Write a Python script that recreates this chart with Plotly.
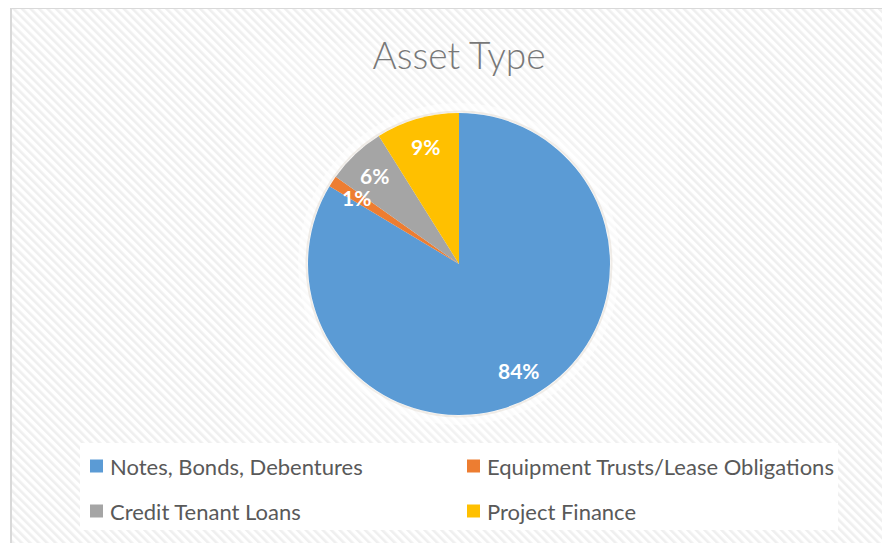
import base64
import numpy as np
import plotly.graph_objects as go

# ---- data ----
categories = ["Notes, Bonds, Debentures", "Equipment Trusts/Lease Obligations",
              "Credit Tenant Loans", "Project Finance"]
values = [83.6, 1.2, 6.3, 8.9]
colors = ["#5B9BD5", "#ED7D31", "#A5A5A5", "#FFC000"]
title_text = "Asset Type"

# ---- layout constants (screen pixels; page body adds an 8px offset) ----
W, H = 890, 543
OX, OY = 8, 8
CX, CY, R = 459, 264, 151

def px(x):
    return (x - OX) / W

def py(y):
    return 1 - (y - OY) / H

fig = go.Figure()
fig.add_trace(go.Pie(
    labels=categories, values=values, sort=False, direction="clockwise", rotation=0,
    marker=dict(colors=colors, line=dict(width=0)),
    textinfo="none", hoverinfo="label+percent", showlegend=False,
    domain=dict(x=[px(CX - R), px(CX + R)], y=[py(CY + R), py(CY - R)]),
))

# data labels placed along each slice's mid-angle
vals = np.array(values, dtype=float)
fr = vals / vals.sum()
mids = (np.cumsum(fr) - fr / 2) * 2 * np.pi
annotations = []
for f, a in zip(fr, mids):
    rr = 0.81 * R
    annotations.append(dict(
        x=px(CX + rr * np.sin(a)), y=py(CY - rr * np.cos(a)), xref="paper", yref="paper",
        text=f"<b>{f*100:.0f}%</b>", showarrow=False,
        font=dict(family="Lato", size=21, color="white"), xanchor="center", yanchor="middle"))

# hatched background
svg = (f'<svg xmlns="http://www.w3.org/2000/svg" width="{W}" height="{H}" viewBox="0 0 {W} {H}">'
       '<defs><pattern id="p" patternUnits="userSpaceOnUse" width="6" height="6" '
       'patternTransform="rotate(-45)"><rect width="6" height="6" fill="#ffffff"/>'
       '<rect width="2.6" height="6" fill="#efefef"/></pattern></defs>'
       f'<rect width="{W}" height="{H}" fill="url(#p)"/></svg>')
src = "data:image/svg+xml;base64," + base64.b64encode(svg.encode()).decode()
images = [dict(source=src, xref="paper", yref="paper", x=px(11), y=py(8), sizex=1, sizey=1,
               xanchor="left", yanchor="top", sizing="stretch", layer="below")]

shapes = [
    # plot-area soft panel
    dict(type="rect", xref="paper", yref="paper", x0=px(240), x1=px(678), y0=py(440), y1=py(43),
         fillcolor="rgba(255,255,255,0.2)", line=dict(width=0), layer="below"),
    # halo around pie
    dict(type="circle", xref="paper", yref="paper", x0=px(CX - R - 10), x1=px(CX + R + 10),
         y0=py(CY + R + 10), y1=py(CY - R - 10),
         fillcolor="rgba(255,255,255,0.55)", line=dict(width=0), layer="below"),
    dict(type="circle", xref="paper", yref="paper", x0=px(CX - R - 1.5), x1=px(CX + R + 1.5),
         y0=py(CY + R + 1.5), y1=py(CY - R - 1.5),
         fillcolor="rgba(0,0,0,0)", line=dict(width=2, color="rgba(225,215,205,0.45)"), layer="below"),
    # chart border
    dict(type="rect", xref="paper", yref="paper", x0=px(11), x1=px(W + 40), y0=py(H + 40), y1=py(8),
         fillcolor="rgba(0,0,0,0)", line=dict(width=2, color="#d9d9d9"), layer="above"),
    # legend box
    dict(type="rect", xref="paper", yref="paper", x0=px(80), x1=px(838), y0=py(530), y1=py(443),
         fillcolor="white", line=dict(width=0), layer="below"),
]

# manual legend: 2 columns x 2 rows
col_x = [90, 467]
row_y = [466, 511]
for i, (cat, col) in enumerate(zip(categories, colors)):
    cx0 = col_x[i % 2]
    cy0 = row_y[i // 2]
    shapes.append(dict(type="rect", xref="paper", yref="paper", x0=px(cx0), x1=px(cx0 + 13),
                       y0=py(cy0 + 6.5), y1=py(cy0 - 6.5), fillcolor=col, line=dict(width=0),
                       layer="above"))
    annotations.append(dict(x=px(cx0 + 18), y=py(cy0), xref="paper", yref="paper", text=cat,
                            showarrow=False, xanchor="left", yanchor="middle",
                            font=dict(family="Lato", size=22, color="#595959")))

fig.update_layout(
    width=W, height=H, margin=dict(l=0, r=0, t=0, b=0),
    paper_bgcolor="white", plot_bgcolor="white",
    title=dict(text=title_text, x=px(CX), xanchor="center", y=py(56), yanchor="middle",
               font=dict(family="Lato", size=37, weight=300, color="#787878")),
    images=images, shapes=shapes, annotations=annotations, showlegend=False,
)

fig.write_html("out.html")
